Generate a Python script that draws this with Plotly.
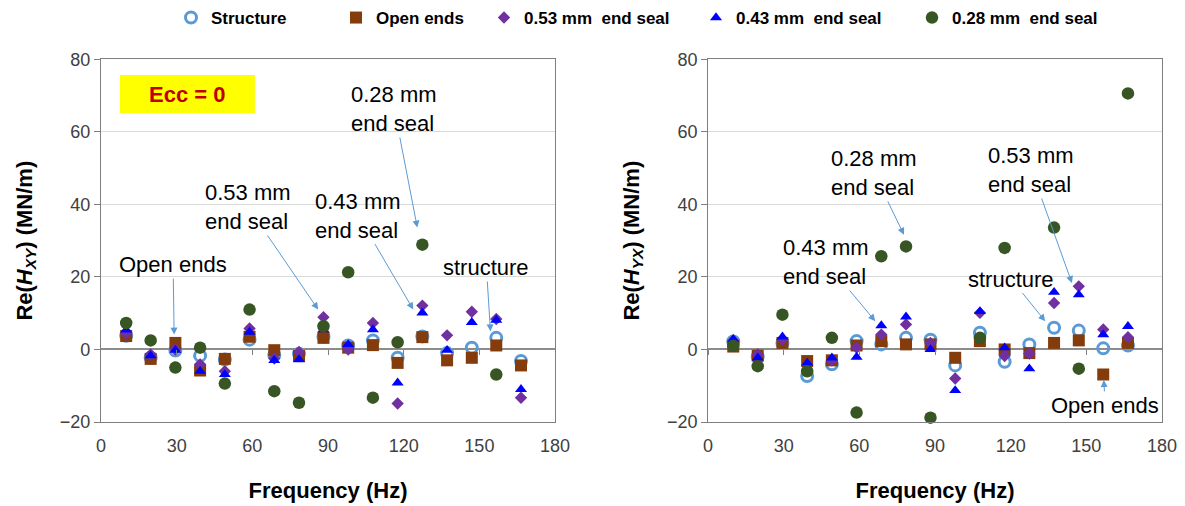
import plotly.graph_objects as go

# ---------------- data ----------------
freq = [10, 19.7, 29.5, 39.3, 49.1, 58.9, 68.7, 78.5, 88.2, 98, 107.8, 117.6, 127.4, 137.2, 147, 156.7, 166.5]

# Re(Hxy)  (MN/m)
structure_xy = [3.8, -2.3, -0.3, -1.7, -2.8, 2.7, -1.5, -1.2, 3.5, 1.1, 2.5, -2.3, 3.6, -1.0, 0.5, 3.2, -3.2]
openends_xy = [3.7, -2.6, 1.8, -5.8, -2.6, 3.5, -0.2, -1.8, 3.2, 0.5, 1.2, -3.7, 3.4, -3.0, -2.3, 1.1, -4.4]
seal053_xy = [4.5, -1.4, 0.0, -4.1, -6.0, 5.8, -2.5, -0.7, 8.9, 0.0, 7.3, -14.9, 12.1, 3.9, 10.4, 8.4, -13.3]
seal043_xy = [5.4, -1.7, -0.2, -6.0, -6.9, 4.8, -3.0, -2.8, 5.5, 1.4, 5.5, -9.2, 10.1, -0.2, 7.5, 8.1, -11.0]
seal028_xy = [7.3, 2.5, -5.0, 0.5, -9.4, 11.0, -11.5, -14.7, 6.4, 21.3, -13.3, 2.0, 28.9, None, None, -6.9, None]

# Re(Hyx)  (MN/m)
structure_yx = [2.2, -2.0, 1.8, -7.3, -4.1, 2.3, 1.4, 3.2, 2.7, -4.4, 4.6, -3.4, 1.4, 6.0, 5.2, 0.3, 1.1]
openends_yx = [0.8, -1.7, 1.8, -3.2, -3.0, 1.1, 2.3, 1.4, 1.4, -2.3, 2.3, 0.0, -1.0, 1.8, 2.5, -6.9, 1.8]
seal053_yx = [2.5, -1.4, 2.7, -4.1, -3.0, 0.5, 4.1, 6.9, 1.8, -8.0, 10.1, -1.8, -1.1, 12.8, 17.4, 5.5, 3.4]
seal043_yx = [2.8, -2.3, 3.5, -3.7, -2.3, -2.1, 6.6, 9.0, 0.0, -11.3, 10.5, 0.5, -5.3, 15.8, 15.1, 4.1, 6.4]
seal028_yx = [1.0, -4.6, 9.6, -6.0, 3.2, -17.4, 25.7, 28.4, -18.8, None, 3.2, 28.0, None, 33.6, -5.3, None, 70.6]

series_names = ["Structure", "Open ends", "0.53 mm  end seal", "0.43 mm  end seal", "0.28 mm  end seal"]
x_ticks = [0, 30, 60, 90, 120, 150, 180]
y_ticks = [-20, 0, 20, 40, 60, 80]

# ---------------- style ----------------
FONT = "Arial, Liberation Sans, sans-serif"
colors = ["#5B9BD5", "#843C0C", "#7030A0", "#0000FF", "#375623"]
markers = [
    dict(symbol="circle-open", size=11, line=dict(width=3, color=colors[0]), color=colors[0]),
    dict(symbol="square", size=12, color=colors[1]),
    dict(symbol="diamond", size=9.5, color=colors[2]),
    dict(symbol="triangle-up", size=10.5, color=colors[3]),
    dict(symbol="circle", size=12.5, color=colors[4]),
]
legend_x_px = [171, 336, 484, 696, 912]

fig = go.Figure()
left = [structure_xy, openends_xy, seal053_xy, seal043_xy, seal028_xy]
right = [structure_yx, openends_yx, seal053_yx, seal043_yx, seal028_yx]
for i, (name, yl, yr) in enumerate(zip(series_names, left, right)):
    lg = "legend" if i == 0 else f"legend{i+1}"
    fig.add_trace(go.Scatter(x=freq, y=yl, mode="markers", name=name, marker=markers[i],
                             xaxis="x", yaxis="y", legend=lg, cliponaxis=False))
    fig.add_trace(go.Scatter(x=freq, y=yr, mode="markers", name=name, marker=markers[i],
                             xaxis="x2", yaxis="y2", showlegend=False, cliponaxis=False))

# empty traces for the zero-line tick axes
fig.add_trace(go.Scatter(x=[None], y=[None], xaxis="x3", yaxis="y", showlegend=False, hoverinfo="skip"))
fig.add_trace(go.Scatter(x=[None], y=[None], xaxis="x4", yaxis="y2", showlegend=False, hoverinfo="skip"))

W, H = 1185, 506
ydom = [0.166, 0.8828]
xdomL = [0.0852, 0.4684]
xdomR = [0.5975, 0.9806]
zero_pos = ydom[0] + (0 - (-20)) / 100 * (ydom[1] - ydom[0])

axis_common = dict(showline=True, linecolor="#7F7F7F", linewidth=1, mirror=True, automargin=False,
                   tickfont=dict(family=FONT, size=18, color="#404040"))
xcommon = dict(axis_common, range=[0, 180], tickvals=x_ticks, ticks="", showgrid=False,
               zeroline=False, ticklabelstandoff=7,
               title_font=dict(family=FONT, size=22, color="#000000", weight="bold"),
               title_standoff=27)
ycommon = dict(axis_common, range=[-20, 80], tickvals=y_ticks, ticks="outside", ticklen=6,
               tickcolor="#7F7F7F", showgrid=True, gridcolor="#D9D9D9", gridwidth=1,
               zeroline=True, zerolinecolor="#8C8C8C", zerolinewidth=2,
               title_font=dict(family=FONT, size=22, color="#000000", weight="bold"),
               title_standoff=21)

tickaxis = dict(range=[0, 180], tickvals=x_ticks, ticks="outside", ticklen=5, tickcolor="#7F7F7F",
                showticklabels=False, showline=False, showgrid=False, zeroline=False, anchor="free",
                position=zero_pos, automargin=False)

fig.update_layout(
    width=W, height=H,
    margin=dict(l=0, r=0, t=0, b=0, autoexpand=False),
    paper_bgcolor="white", plot_bgcolor="white",
    font=dict(family=FONT, color="#000000"),
    xaxis=dict(xcommon, domain=xdomL, anchor="y", title_text="Frequency (Hz)"),
    yaxis=dict(ycommon, domain=ydom, anchor="x",
               title_text="Re(<i>H</i><sub><i>XY</i></sub>) (MN/m)"),
    xaxis2=dict(xcommon, domain=xdomR, anchor="y2", title_text="Frequency (Hz)"),
    yaxis2=dict(ycommon, domain=ydom, anchor="x2",
                title_text="Re(<i>H</i><sub><i>YX</i></sub>) (MN/m)"),
    xaxis3=dict(tickaxis, overlaying="x", domain=xdomL),
    xaxis4=dict(tickaxis, overlaying="x2", domain=xdomR),
    showlegend=True,
)

for i in range(5):
    key = "legend" if i == 0 else f"legend{i+1}"
    fig.update_layout({key: dict(x=legend_x_px[i] / W, y=1 - 18 / H, xanchor="left", yanchor="middle",
                                 orientation="h", bgcolor="rgba(0,0,0,0)", borderwidth=0,
                                 font=dict(family=FONT, size=17, color="#000000", weight="bold"))})

# Ecc label box
fig.add_shape(type="rect", xref="x", yref="y", x0=7.5, x1=61, y0=65.2, y1=75.7,
              fillcolor="#FFFF00", line=dict(width=0), layer="below")
fig.add_annotation(x=34.3, y=70.4, xref="x", yref="y", text="Ecc = 0", showarrow=False,
                   font=dict(family=FONT, size=22, color="#C00000", weight="bold"))

# callouts: (axis, text, text_x, text_y, tip_x, tip_y)
callouts = [
    ("", "Open ends", 28.6, 23.4, 29.0, 4.1),
    ("", "0.53 mm<br>end seal", 58.3, 39.3, 86.1, 11.0),
    ("", "0.43 mm<br>end seal", 102.0, 36.9, 123.8, 11.0),
    ("", "0.28 mm<br>end seal", 116.3, 66.3, 125.4, 33.6),
    ("", "structure", 152.8, 22.6, 154.4, 5.0),
    ("2", "0.28 mm<br>end seal", 65.8, 48.7, 77.7, 31.6),
    ("2", "0.53 mm<br>end seal", 128.2, 49.5, 144.3, 18.3),
    ("2", "0.43 mm<br>end seal", 46.8, 24.1, 66.3, 7.8),
    ("2", "structure", 120.2, 19.4, 133.7, 7.8),
    ("2", "Open ends", 157.5, -15.4, 156.9, -8.4),
]
for ax, text, tx, ty, px, py in callouts:
    fig.add_annotation(x=px, y=py, xref="x" + ax, yref="y" + ax,
                       ax=tx, ay=ty, axref="x" + ax, ayref="y" + ax,
                       text=text, showarrow=True, arrowhead=2, arrowsize=1.4, arrowwidth=1,
                       arrowcolor="#5B9BD5", standoff=0, align="left",
                       font=dict(family=FONT, size=22, color="#000000"))

fig.write_html("out.html")
